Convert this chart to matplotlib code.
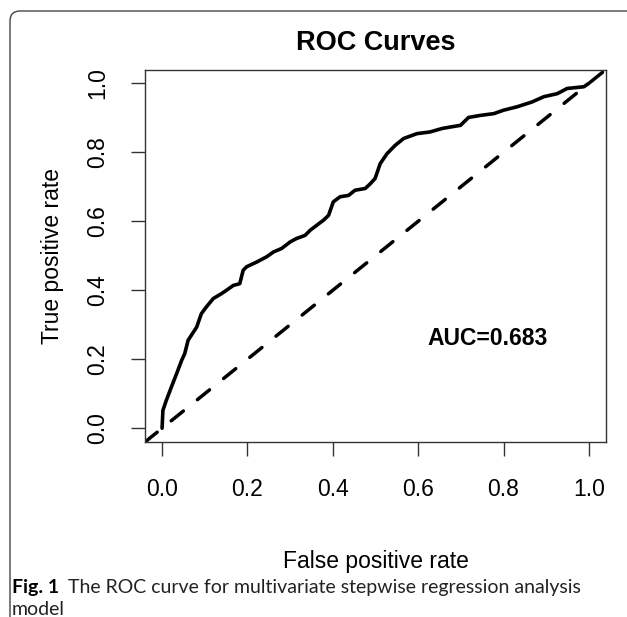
import matplotlib
matplotlib.use("Agg")
import matplotlib.pyplot as plt
from matplotlib.patches import FancyBboxPatch

# ROC curve points
fpr = [0.0, 0.002, 0.010, 0.022, 0.034, 0.046, 0.053, 0.061, 0.081, 0.092,
       0.104, 0.120, 0.139, 0.151, 0.167, 0.182, 0.190, 0.198, 0.222, 0.245,
       0.261, 0.280, 0.300, 0.315, 0.335, 0.347, 0.362, 0.378, 0.390, 0.401,
       0.417, 0.437, 0.452, 0.476, 0.488, 0.499, 0.511, 0.527, 0.546, 0.566,
       0.597, 0.628, 0.656, 0.679, 0.699, 0.718, 0.746, 0.777, 0.800, 0.832,
       0.867, 0.894, 0.926, 0.949, 0.988, 1.0]
tpr = [0.0, 0.052, 0.081, 0.120, 0.158, 0.197, 0.216, 0.255, 0.293, 0.332,
       0.352, 0.376, 0.390, 0.400, 0.414, 0.419, 0.458, 0.468, 0.482, 0.497,
       0.511, 0.521, 0.540, 0.550, 0.559, 0.574, 0.588, 0.603, 0.617, 0.656,
       0.671, 0.675, 0.690, 0.695, 0.709, 0.724, 0.767, 0.796, 0.820, 0.840,
       0.854, 0.859, 0.869, 0.874, 0.878, 0.901, 0.907, 0.912, 0.922, 0.932,
       0.946, 0.961, 0.970, 0.985, 0.990, 1.0]
ticks = [0.0, 0.2, 0.4, 0.6, 0.8, 1.0]
tick_labels = ["0.0", "0.2", "0.4", "0.6", "0.8", "1.0"]
auc_text = "AUC=0.683"

W, H = 627, 617
fig = plt.figure(figsize=(W / 100, H / 100), dpi=100)
plt.rcParams['font.family'] = ['Liberation Sans', 'DejaVu Sans']

# panel frame with rounded corner (cut off at right and bottom)
frame = FancyBboxPatch((10 / W, -20 / H), (W + 30) / W, (H + 9) / H,
                       boxstyle="round,pad=0,rounding_size=0.016",
                       transform=fig.transFigure, fill=False,
                       edgecolor="#444444", linewidth=1.0)
fig.patches.append(frame)

ax = fig.add_axes([145 / W, 1 - 442 / H, 461 / W, 372.5 / H])

# diagonal reference line across the whole plot region
ax.axline((0, 0), (1, 1), color="black", linewidth=2.5,
          linestyle=(0, (4.5, 5.2)), dash_capstyle="round")
ax.plot(fpr, tpr, color="black", linewidth=2.6,
        solid_joinstyle="round", solid_capstyle="round")

ax.set_xlim(-0.04, 1.04)
ax.set_ylim(-0.04, 1.04)
ax.set_xticks(ticks)
ax.set_xticklabels(tick_labels, fontsize=16.5)
ax.set_yticks(ticks)
ax.set_yticklabels(tick_labels, fontsize=16.5, rotation=90, va="center")
ax.tick_params(length=10, width=1.0, color="#333333")
ax.tick_params(axis="x", pad=16)
ax.tick_params(axis="y", pad=16)
for s in ax.spines.values():
    s.set_linewidth(1.0)
    s.set_color("#333333")

ax.set_xlabel("False positive rate", fontsize=16.5, labelpad=35)
ax.set_ylabel("True positive rate", fontsize=16.5, labelpad=16)
ax.set_title("ROC Curves", fontsize=19.5, fontweight="bold", pad=14)
ax.text(0.762, 0.26, auc_text, fontsize=16.5, fontweight="bold",
        ha="center", va="center")

# caption below the panel
cap_font = ['Lato', 'DejaVu Sans']
t1 = fig.text(12 / W, 1 - 593 / H, "Fig. 1", fontsize=14, fontweight="bold",
              family=cap_font, va="baseline")
fig.canvas.draw()
bb = t1.get_window_extent(fig.canvas.get_renderer())
fig.text((bb.x1 + 9) / W, 1 - 593 / H,
         "The ROC curve for multivariate stepwise regression analysis",
         fontsize=14, family=cap_font, va="baseline", color="#222222")
fig.text(12 / W, 1 - 615 / H, "model", fontsize=14, family=cap_font,
         va="baseline", color="#222222")

fig.savefig("out.png", dpi=100)
